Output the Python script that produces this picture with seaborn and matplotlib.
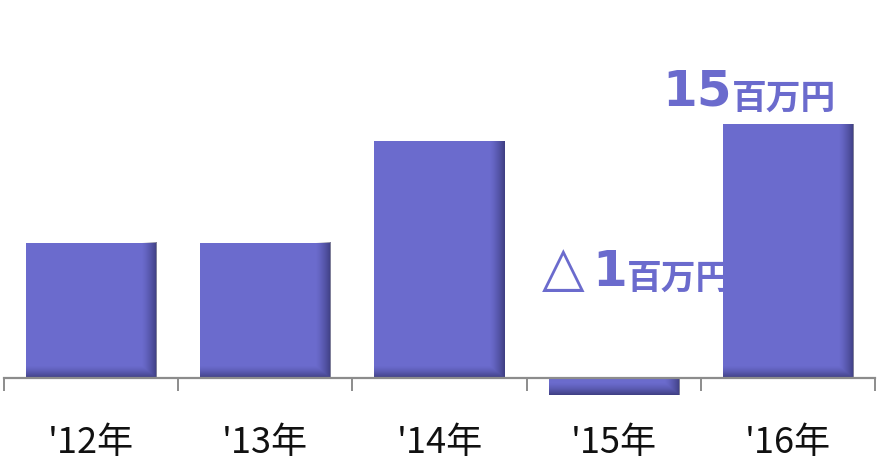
import numpy as np
import matplotlib
matplotlib.use("Agg")
import matplotlib.pyplot as plt
import seaborn as sns
from matplotlib.ticker import FixedLocator

years = ["'12年", "'13年", "'14年", "'15年", "'16年"]
values = [8, 8, 14, -1, 15]
label_top = ("15", "百万円")
label_neg = ("△", "1", "百万円")

BAR = "#6b6bcd"
GREY = "#8c8c8c"

sns.set_theme(style="white")
plt.rcParams['font.family'] = ['Noto Sans CJK JP', 'DejaVu Sans']

fig = plt.figure(figsize=(8.79, 4.65), dpi=100)
ax = fig.add_axes([4 / 879, 0, 871 / 879, 1])

sns.barplot(x=years, y=values, color=BAR, saturation=1, width=130 / 174, ax=ax,
            linewidth=0, edgecolor='none')

for s in ['top', 'right', 'left']:
    ax.spines[s].set_visible(False)
ax.spines['bottom'].set_position(('data', 0))
ax.spines['bottom'].set_color(GREY)
ax.spines['bottom'].set_linewidth(1.6)
ax.set_yticks([])
ax.set_xlabel("")
ax.set_ylabel("")
ax.xaxis.set_minor_locator(FixedLocator(np.arange(-0.5, 5, 1)))
ax.tick_params(axis='x', which='minor', direction='out', length=9.5, width=1.4, color=GREY, bottom=True)
ax.tick_params(axis='x', which='major', length=0, pad=34, labelsize=26, labelcolor='#111111')

ax.set_xlim(-0.5, 4.5)
ax.set_ylim(-5.14, 22.33)

# shading gradient on bars (right and bottom edges)
fig.canvas.draw()
dark = np.array([0.12, 0.12, 0.30])
for p in list(ax.patches):
    x0, y0 = p.get_x(), p.get_y()
    w, h = p.get_width(), p.get_height()
    y_lo, y_hi = min(y0, y0 + h), max(y0, y0 + h)
    px0, py0 = ax.transData.transform((x0, y_lo))
    px1, py1 = ax.transData.transform((x0 + w, y_hi))
    W = max(int(round(px1 - px0)), 2)
    H = max(int(round(py1 - py0)), 2)
    xs = np.arange(W)
    ys = np.arange(H)
    rb, bb = 16.0, 13.0
    right = np.clip((xs - (W - rb)) / rb, 0, 1)
    bottom = np.clip((ys - (H - bb)) / bb, 0, 1)
    a = np.maximum(right[None, :], bottom[:, None]) ** 1.4 * 0.62
    rgba = np.zeros((H, W, 4))
    rgba[..., :3] = dark
    rgba[..., 3] = a
    ax.imshow(rgba, extent=(x0, x0 + w, y_lo, y_hi), origin='upper', aspect='auto',
              zorder=p.get_zorder() + 0.05, interpolation='bilinear')

ax.set_xlim(-0.5, 4.5)
ax.set_ylim(-5.14, 22.33)

# annotations (drawn behind bars)
t1 = ax.text(3.28, 16.1, label_top[0], fontsize=36, fontweight='bold', color=BAR,
             family=['DejaVu Sans', 'Noto Sans CJK JP'], ha='left', va='baseline', zorder=0.5)
ax.annotate(label_top[1], xy=(1, 0), xycoords=t1, xytext=(0, 0), textcoords='offset points',
            fontsize=25, fontweight='bold', color=BAR, ha='left', va='bottom', zorder=0.5,
            annotation_clip=False)

t2 = ax.text(2.585, 5.5, label_neg[0], fontsize=40, color=BAR,
             family=['DejaVu Sans', 'Noto Sans CJK JP'], ha='left', va='baseline', zorder=0.5)
t3 = ax.annotate(label_neg[1], xy=(1, 0), xycoords=t2, xytext=(6, 1), textcoords='offset points',
                 fontsize=36, fontweight='bold', color=BAR, family=['DejaVu Sans', 'Noto Sans CJK JP'],
                 ha='left', va='bottom', zorder=0.5)
ax.annotate(label_neg[2], xy=(1, 0), xycoords=t3, xytext=(0, 0), textcoords='offset points',
            fontsize=25, fontweight='bold', color=BAR, ha='left', va='bottom', zorder=0.5)

fig.savefig("out.png", dpi=100, facecolor='white')
